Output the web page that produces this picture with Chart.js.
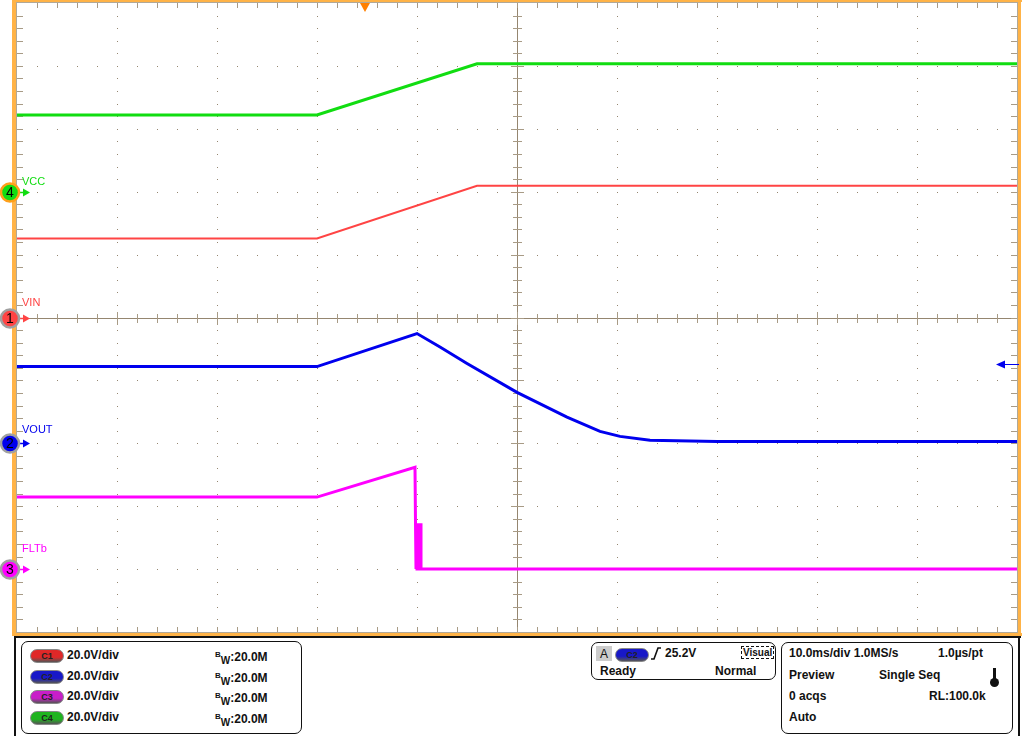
<!DOCTYPE html>
<html>
<head>
<meta charset="utf-8">
<script src="https://cdn.jsdelivr.net/npm/chart.js@4"></script>
<style>
  body { margin: 0; background: #fff; font-family: "Liberation Sans", Arial, sans-serif; }
  #wrap { position: relative; width: 1024px; height: 736px; overflow: hidden; }
  #scope { position: absolute; left: 0; top: 0; }
  .abs { position: absolute; }
  .txt { position: absolute; font-size: 12px; font-weight: bold; color: #111; white-space: nowrap; line-height: 14px; }
  .box { position: absolute; border: 1px solid #111; border-radius: 7px; background: #fff; }
  .pill { position: absolute; width: 32px; height: 12px; border-radius: 7px; border: 1px solid #888;
          font-size: 9px; font-weight: bold; text-align: center; line-height: 12px; color: #222; }
  .bw sup { font-size: 8px; vertical-align: 4px; }
  .bw sub { font-size: 10px; vertical-align: -3px; }
</style>
</head>
<body>
<div id="wrap">
  <canvas id="scope" width="1024" height="636"></canvas>

  <!-- bottom readout panel -->
  <div class="abs" style="left:14px;top:636px;width:1007px;height:2px;background:#111"></div>
  <div class="abs" style="left:14px;top:636px;width:2px;height:100px;background:#111"></div>
  <div class="abs" style="left:1018px;top:636px;width:2px;height:100px;background:#111"></div>

  <div class="box" style="left:21px;top:641px;width:279px;height:91px"></div>
  <div class="box" style="left:591px;top:642px;width:183px;height:36px"></div>
  <div class="box" style="left:781px;top:642px;width:230px;height:90px"></div>
  <div id="panel"></div>
</div>

<script>
// time axis: ms from left edge of screen (10 ms/div, 10 divisions)
const timeMin = 0;
const timeMax = 100;
const voltsPerDiv = 20;

// channel labels, offsets (divisions from centre) and colours
const channelNames = ['VIN', 'VOUT', 'FLTb', 'VCC'];
const channelNums = ['1', '2', '3', '4'];
const channelOffsets = [0, -2, -4, 2];
const channelColors = ['#ff4444', '#0000ee', '#ff00ff', '#11dd11'];
const labelRaise = [13, 11, 18, 8];

// traces (volts)
const vinTime = [0, 30, 46, 100];
const vinVolts = [25.1, 25.1, 41.9, 41.9];

const voutTime = [0, 30, 40, 42.3, 45, 50, 55, 58.3, 60.3, 63.3, 70, 100];
const voutVolts = [24.4, 24.4, 34.9, 30.6, 25.4, 16.2, 8.3, 3.8, 2.2, 1.0, 0.6, 0.6];

const fltTime = [0, 30, 39.8, 39.85, 39.9, 39.95, 40.0, 40.05, 40.1, 40.15, 40.2, 40.25, 40.3, 40.35, 40.4, 40.45, 100];
const fltVolts = [22.9, 22.9, 32.4, 14.6, 0, 14.6, 0, 14.6, 0, 14.6, 0, 14.6, 0, 14.6, 0, 0, 0];

const vccTime = [0, 30, 46, 100];
const vccVolts = [24.4, 24.4, 40.7, 40.7];

const traceTimes = [vinTime, voutTime, fltTime, vccTime];
const traceVolts = [vinVolts, voutVolts, fltVolts, vccVolts];
const traceWidths = [2, 3, 3, 3];

// trigger: channel 2 at 25.2V, position in ms
const trigChannel = 1;
const trigLevel = 25.2;
const trigTime = 34.8;

function toPoints(t, v, ch) {
  var pts = [];
  for (var i = 0; i < t.length; i++) {
    pts.push({ x: t[i], y: channelOffsets[ch] + v[i] / voltsPerDiv });
  }
  return pts;
}

var datasets = [];
// draw order: green, red, blue, magenta
[3, 0, 1, 2].forEach(function (ch) {
  datasets.push({
    label: channelNames[ch],
    data: toPoints(traceTimes[ch], traceVolts[ch], ch),
    borderColor: channelColors[ch],
    borderWidth: traceWidths[ch],
    pointRadius: 0,
    tension: 0,
    fill: false
  });
});

const gridColor = '#958670';

const scopeGrid = {
  id: 'scopeGrid',
  beforeDatasetsDraw(chart) {
    const ctx = chart.ctx, a = chart.chartArea, x = chart.scales.x, y = chart.scales.y;
    ctx.save();
    ctx.fillStyle = gridColor;
    // dotted graticule
    for (var i = 1; i < 10; i++) {
      if (i === 5) continue;
      var px = Math.round(x.getPixelForValue(i * 10));
      for (var j = 1; j < 50; j++) {
        ctx.fillRect(px, Math.round(y.getPixelForValue(-5 + j * 0.2)), 1, 1);
      }
    }
    for (var j2 = 1; j2 < 10; j2++) {
      if (j2 === 5) continue;
      var py = Math.round(y.getPixelForValue(-5 + j2));
      for (var k = 1; k < 50; k++) {
        ctx.fillRect(Math.round(x.getPixelForValue(k * 2)), py, 1, 1);
      }
    }
    // centre cross
    var cx = Math.round(x.getPixelForValue(50)), cy = Math.round(y.getPixelForValue(0));
    ctx.fillRect(cx, a.top, 1, a.bottom - a.top);
    ctx.fillRect(a.left, cy, a.right - a.left, 1);
    ctx.fillStyle = '#a89b86';
    for (var m = 1; m < 50; m++) {
      var tx = Math.round(x.getPixelForValue(m * 2));
      var len = (m % 5 === 0) ? 6 : 4;
      ctx.fillRect(tx, cy - len, 1, len * 2 + 1);
      ctx.fillRect(tx, a.top, 1, 5);
      ctx.fillRect(tx, a.bottom - 5, 1, 5);
      var ty = Math.round(y.getPixelForValue(-5 + m * 0.2));
      ctx.fillRect(cx - len, ty, len * 2 + 1, 1);
      ctx.fillRect(a.left, ty, 6, 1);
      ctx.fillRect(a.right - 6, ty, 6, 1);
    }
    ctx.restore();
  },
  afterDraw(chart) {
    const ctx = chart.ctx, a = chart.chartArea, x = chart.scales.x, y = chart.scales.y;
    ctx.save();
    // frame
    ctx.fillStyle = '#b0a898';
    ctx.fillRect(a.left - 1, a.top - 1, a.right - a.left + 2, 1);
    ctx.fillRect(a.left - 1, a.top - 1, 1, a.bottom - a.top + 2);
    ctx.fillRect(a.right, a.top - 1, 1, a.bottom - a.top + 2);
    ctx.fillRect(a.left - 1, a.bottom, a.right - a.left + 2, 1);
    ctx.fillStyle = '#ffb347';
    ctx.fillRect(12, 0, 4, 636);
    ctx.fillRect(12, 0, 1010, 2);
    ctx.fillRect(a.right + 1, 0, 3, 636);
    ctx.fillRect(12, a.bottom + 1, 1010, 3);

    // trigger position marker
    var tx = x.getPixelForValue(trigTime);
    ctx.fillStyle = '#ff8000';
    ctx.beginPath();
    ctx.moveTo(tx - 5, a.top);
    ctx.lineTo(tx + 5, a.top);
    ctx.lineTo(tx, a.top + 9);
    ctx.closePath();
    ctx.fill();

    // trigger level marker on the right
    var ly = Math.round(y.getPixelForValue(channelOffsets[trigChannel] + trigLevel / voltsPerDiv)) + 0.5;
    ctx.strokeStyle = channelColors[trigChannel];
    ctx.fillStyle = channelColors[trigChannel];
    ctx.lineWidth = 1;
    ctx.beginPath();
    ctx.moveTo(a.right - 12, ly);
    ctx.lineTo(a.right + 2, ly);
    ctx.stroke();
    ctx.beginPath();
    ctx.moveTo(a.right - 21, ly);
    ctx.lineTo(a.right - 12, ly - 4);
    ctx.lineTo(a.right - 12, ly + 4);
    ctx.closePath();
    ctx.fill();

    // channel ground markers
    for (var ch = 0; ch < 4; ch++) {
      var my = Math.round(y.getPixelForValue(channelOffsets[ch])) + 0.5;
      var col = channelColors[ch];
      ctx.strokeStyle = col;
      ctx.fillStyle = col;
      ctx.lineWidth = 1.5;
      ctx.beginPath();
      ctx.moveTo(18, my);
      ctx.lineTo(24, my);
      ctx.stroke();
      ctx.beginPath();
      ctx.moveTo(30, my);
      ctx.lineTo(23, my - 4);
      ctx.lineTo(23, my + 4);
      ctx.closePath();
      ctx.fill();

      ctx.beginPath();
      ctx.arc(10, my, 9, 0, Math.PI * 2);
      ctx.fillStyle = col;
      ctx.fill();
      ctx.lineWidth = 2.5;
      ctx.strokeStyle = (ch === 3) ? '#ff9f1a' : '#a0a0a0';
      ctx.stroke();
      ctx.fillStyle = '#000';
      ctx.font = '14px "Liberation Sans", Arial, sans-serif';
      ctx.textAlign = 'center';
      ctx.textBaseline = 'middle';
      ctx.fillText(channelNums[ch], 10, my + 1);

      ctx.fillStyle = col;
      ctx.font = '11px "Liberation Sans Narrow", "Liberation Sans", Arial, sans-serif';
      ctx.textAlign = 'left';
      ctx.textBaseline = 'alphabetic';
      ctx.fillText(channelNames[ch], 22, my - labelRaise[ch]);
    }
    ctx.restore();
  }
};

new Chart(document.getElementById('scope').getContext('2d'), {
  type: 'line',
  data: { datasets: datasets },
  options: {
    responsive: false,
    animation: false,
    layout: { padding: { left: 17, right: 7, top: 3, bottom: 4 } },
    plugins: { legend: { display: false }, tooltip: { enabled: false } },
    scales: {
      x: { type: 'linear', min: timeMin, max: timeMax, display: false },
      y: { type: 'linear', min: -5, max: 5, display: false }
    }
  },
  plugins: [scopeGrid]
});

// readout panel text
const pillColors = ['#e02828', '#1818c8', '#c81ec8', '#20b420'];
const pillLabels = ['C1', 'C2', 'C3', 'C4'];
const scaleText = ['20.0V/div', '20.0V/div', '20.0V/div', '20.0V/div'];
const bwText = ['20.0M', '20.0M', '20.0M', '20.0M'];

var html = '';
for (var r = 0; r < 4; r++) {
  var rowTop = 649 + r * 20.5;
  html += '<div class="pill" style="left:30px;top:' + rowTop + 'px;background:linear-gradient(' + pillColors[r] + ',' + pillColors[r] + ' 60%,#555)">' + pillLabels[r] + '</div>';
  html += '<div class="txt" style="left:67px;top:' + (rowTop - 1) + 'px">' + scaleText[r] + '</div>';
  html += '<div class="txt bw" style="left:215px;top:' + (rowTop - 1) + 'px"><sup>B</sup><sub>W</sub>:' + bwText[r] + '</div>';
}
// trigger box
html += '<div class="abs" style="left:596px;top:646px;width:16px;height:15px;background:#ccc"></div>';
html += '<div class="txt" style="left:600px;top:647px;font-weight:normal">A</div>';
html += '<div class="pill" style="left:615px;top:648px;background:linear-gradient(#1818c8,#1818c8 60%,#555)">C2</div>';
html += '<svg class="abs" style="left:650px;top:646px" width="12" height="16"><path d="M1,13 L4,13 L8,2 L11,2" stroke="#111" stroke-width="1.6" fill="none"/></svg>';
html += '<div class="txt" style="left:665px;top:646px">25.2V</div>';
html += '<div class="txt" style="left:741px;top:646px;font-size:10px;border:1px dashed #111;padding:0 1px;line-height:11px">Visual</div>';
html += '<div class="txt" style="left:600px;top:664px">Ready</div>';
html += '<div class="txt" style="left:715px;top:664px">Normal</div>';
// acquisition box
html += '<div class="txt" style="left:789px;top:646px">10.0ms/div 1.0MS/s</div>';
html += '<div class="txt" style="left:938px;top:646px">1.0\u00b5s/pt</div>';
html += '<div class="txt" style="left:789px;top:668px">Preview</div>';
html += '<div class="txt" style="left:879px;top:668px">Single Seq</div>';
html += '<div class="abs" style="left:993px;top:668px;width:3px;height:14px;background:#111"></div>';
html += '<div class="abs" style="left:990px;top:678px;width:9px;height:9px;border-radius:5px;background:#111"></div>';
html += '<div class="txt" style="left:789px;top:689px">0 acqs</div>';
html += '<div class="txt" style="left:929px;top:689px">RL:100.0k</div>';
html += '<div class="txt" style="left:789px;top:710px">Auto</div>';
document.getElementById('panel').innerHTML = html;
</script>
</body>
</html>
